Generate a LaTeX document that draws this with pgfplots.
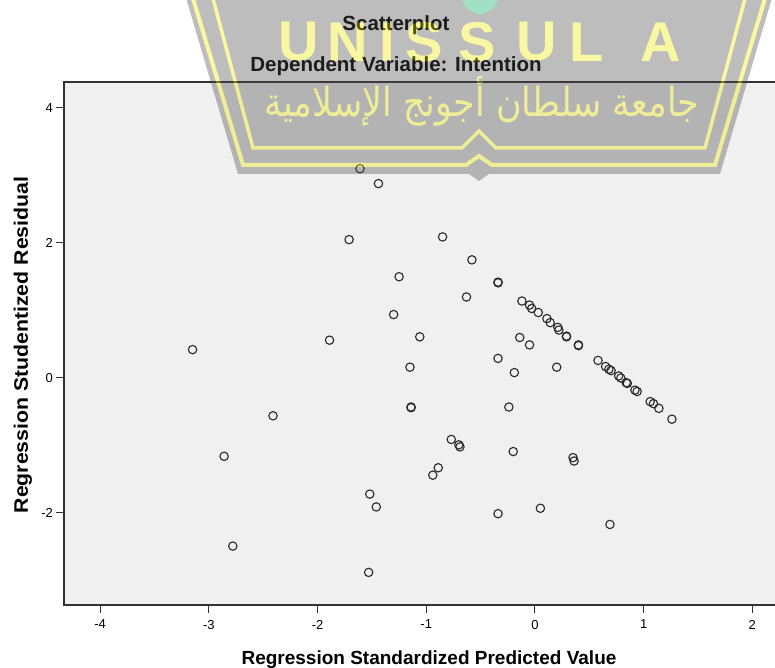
\documentclass[border=0pt]{standalone}
\usepackage{pgfplots}
\pgfplotsset{compat=1.18}
\usepackage{fontspec}
\usepackage{graphicx}
\setmainfont{Liberation Sans}
\newfontfamily\arabicfont[Script=Arabic]{DejaVu Sans}
\TeXXeTstate=1
\definecolor{bgc}{RGB}{240,240,240}
\definecolor{frm}{RGB}{50,50,50}
\definecolor{mk}{RGB}{40,40,40}
\definecolor{wmgray}{RGB}{77,77,77}
\definecolor{wmyel}{RGB}{240,232,0}
\definecolor{wmgreen}{RGB}{0,170,90}
\begin{document}
\begin{tikzpicture}
\begin{axis}[
  scale only axis, width=714pt, height=523pt,
  xmin=-4.333, xmax=2.236, ymin=-3.363, ymax=4.385,
  axis background/.style={fill=bgc},
  axis line style={frm, line width=1.2pt},
  xtick={-4,-3,-2,-1,0,1,2}, ytick={-2,0,2,4},
  tick pos=left, tick align=outside, major tick length=7.5pt,
  tick style={frm, line width=1pt},
  ticklabel style={font=\fontsize{13}{13}\selectfont},
  xticklabel style={yshift=-4pt},
  /pgf/number format/assume math mode=true,
]
\addplot[only marks, mark=o, mark size=4.2pt, mark options={line width=1.1pt, draw=mk}] table {
x y
-1.61 3.10
-1.44 2.88
-1.71 2.05
-0.85 2.09
-0.58 1.75
-1.25 1.50
-0.63 1.20
-0.34 1.42
-0.34 1.41
-1.30 0.94
-1.06 0.61
-1.89 0.56
-3.15 0.42
-0.14 0.60
-0.05 0.49
-0.34 0.29
-0.19 0.08
-1.15 0.16
0.20 0.16
-2.41 -0.56
-1.14 -0.43
-1.14 -0.44
-0.24 -0.43
-0.77 -0.91
-0.70 -0.99
-0.69 -1.02
-0.20 -1.09
0.35 -1.18
0.36 -1.23
-0.89 -1.33
-0.94 -1.44
-2.86 -1.16
-1.52 -1.72
-1.46 -1.91
-0.34 -2.01
0.05 -1.93
0.69 -2.17
-2.78 -2.49
-1.53 -2.88
-0.12 1.14
-0.05 1.08
-0.03 1.03
0.03 0.97
0.11 0.88
0.14 0.82
0.21 0.75
0.22 0.71
0.29 0.62
0.29 0.61
0.40 0.49
0.40 0.48
0.58 0.26
0.65 0.17
0.68 0.13
0.70 0.11
0.77 0.03
0.79 0.00
0.84 -0.07
0.85 -0.08
0.92 -0.18
0.94 -0.20
1.06 -0.35
1.09 -0.38
1.14 -0.45
1.26 -0.61
};
\end{axis}
\begin{scope}[shift={(-64pt,605pt)}, x=1pt, y=-1pt]
\node[anchor=base, font=\bfseries\fontsize{20.5}{20.5}\selectfont] at (396,31) {Scatterplot};
\node[anchor=base, font=\bfseries\fontsize{20.5}{20.5}\selectfont] at (396,71.7) {Dependent Variable: Intention};
\node[anchor=base, font=\bfseries\fontsize{19}{19}\selectfont] at (429,664) {Regression Standardized Predicted Value};
\node[anchor=base, rotate=90, font=\bfseries\fontsize{19.5}{19.5}\selectfont] at (28,345) {\scalebox{1.09}[1]{Regression Studentized Residual}};
\begin{scope}[transparency group, opacity=0.37]
\fill[wmgray] (186,-2) -- (772,-2) -- (720,174) -- (489,174) -- (479,181) -- (469,174) -- (238,174) -- cycle;
\draw[wmyel, line width=4pt] (192,-5) -- (243,165) -- (466,165) -- (479,156) -- (492,165) -- (715,165) -- (766,-5);
\draw[wmyel, line width=3.5pt] (212,-5) -- (253,148) -- (462,148) -- (479,131) -- (496,148) -- (705,148) -- (746,-5);
\fill[wmgreen] (462,-2) -- (498,-2) .. controls (495,8) .. (480,15) .. controls (465,8) .. (462,-2) -- cycle;
\foreach \c/\xx in {U/299,N/348,I/387,S/424,S/477,U/537,L/587,A/661}
  \node[text=wmyel, font=\bfseries\fontsize{56}{56}\selectfont, inner sep=0pt] at (\xx,42) {\c};
\node[text=wmyel, inner sep=0pt] at (482,101) {\resizebox{435pt}{40pt}{\arabicfont\beginR جامعة سلطان أجونج الإسلامية\endR}};
\end{scope}
\pgfresetboundingbox
\path[use as bounding box] (0,0) rectangle (775,668);
\end{scope}
\end{tikzpicture}
\end{document}
